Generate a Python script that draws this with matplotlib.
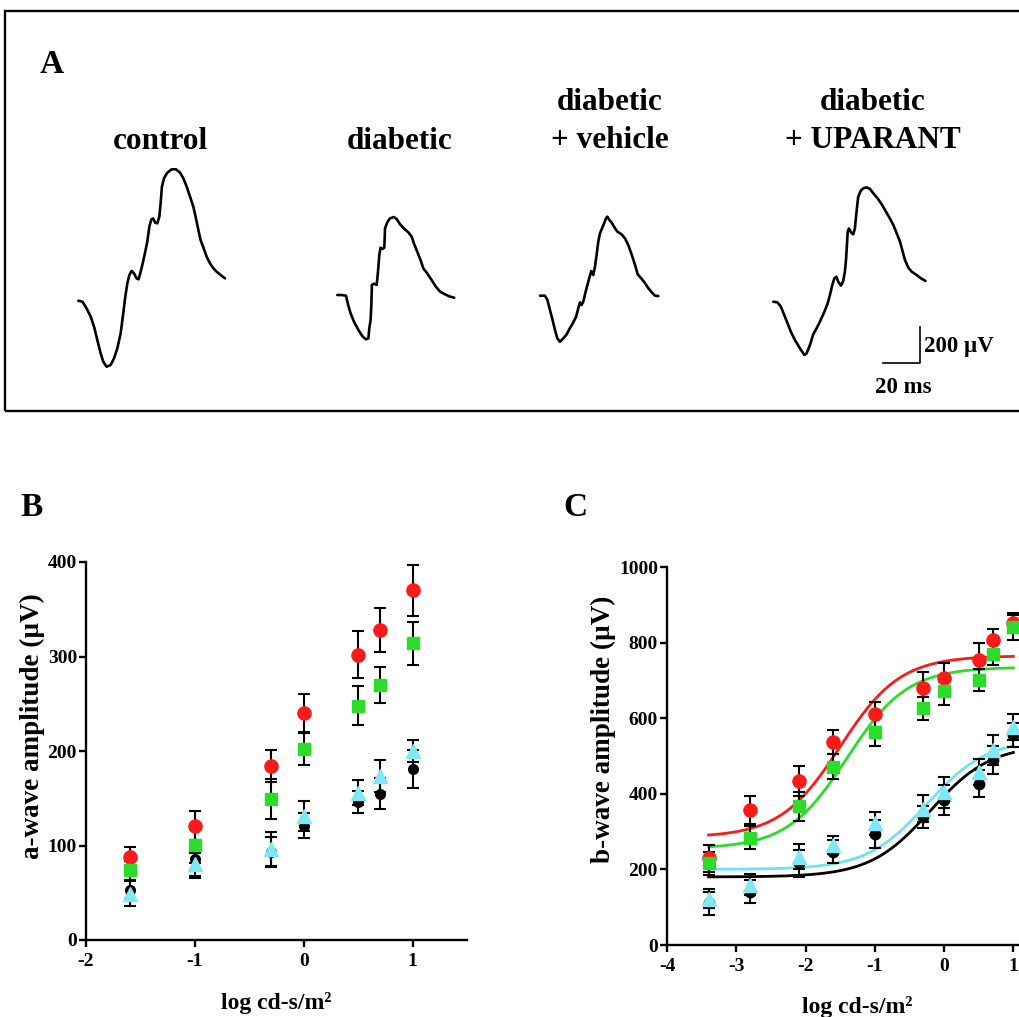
import numpy as np
import matplotlib
matplotlib.use("Agg")
import matplotlib.pyplot as plt
from matplotlib.patches import Rectangle

plt.rcParams['font.family'] = ['Liberation Serif', 'DejaVu Serif']
plt.rcParams['font.weight'] = 'bold'
plt.rcParams['axes.unicode_minus'] = False

# ---------------- data ----------------
# Panel A: representative ERG traces (time in ms, amplitude in µV, relative to trace start)
ctrl_t = [0, 2.3, 4.5, 6.7, 8.5, 10.3, 12.1, 13.5, 15.3, 17.5, 19.3, 21.1, 22.9, 24.3, 25.4, 26.5,
          27.6, 28.8, 30.1, 31.5, 32.6, 33.7, 34.8, 36.0, 37.3, 38.4, 39.5, 40.5, 41.6, 42.7, 43.8,
          44.5, 45.2, 46.3, 48.1, 50.5, 52.8, 55.0, 56.8, 58.6, 60.4, 62.2, 63.6, 64.9, 66.1, 67.6,
          69.4, 71.2, 73.0, 74.8, 76.9, 79.3]
ctrl_v = [0, -6, -43, -89, -144, -219, -293, -339, -367, -357, -320, -265, -181, -70, 22, 96,
          143, 165, 152, 124, 119, 161, 207, 263, 328, 411, 452, 457, 433, 430, 467,
          541, 633, 680, 711, 730, 730, 711, 680, 633, 578, 522, 457, 393, 337, 296,
          244, 207, 180, 161, 143, 124]

diab_t = [0, 2.3, 4.7, 5.9, 7.2, 9.0, 11.4, 13.7, 15.5, 16.8, 17.3, 18.0, 18.4, 18.7, 19.8, 21.3,
          22.0, 22.7, 23.4, 24.5, 25.4, 25.6, 25.8, 27.0, 28.5, 30.6, 32.1, 33.9, 36.0, 38.4, 40.2,
          41.4, 43.2, 45.0, 46.5, 48.6, 51.0, 53.3, 55.5, 58.2, 60.9, 63.2]
diab_v = [0, 0, -4, -56, -102, -148, -194, -231, -246, -241, -185, -139, -56, 56, 63, 56,
          130, 222, 263, 256, 263, 315, 370, 404, 426, 433, 422, 393, 370, 348, 324,
          287, 241, 194, 148, 120, 83, 46, 19, 4, -9, -15]

veh_t = [0, 2.7, 4.0, 5.4, 6.8, 8.1, 9.4, 10.8, 12.6, 14.4, 15.9, 17.7, 19.5, 20.7, 21.6, 22.5,
         23.4, 24.3, 25.6, 27.0, 27.7, 28.8, 29.7, 30.6, 31.5, 32.4, 33.9, 35.7, 36.4, 37.5, 38.7,
         40.0, 41.8, 44.1, 45.9, 47.7, 49.5, 51.4, 52.8, 55.0, 56.8, 58.6, 60.4, 62.2, 64.0]
veh_v = [0, 0, -24, -80, -135, -191, -237, -256, -237, -215, -185, -154, -117, -70, -37, -52,
         -33, 7, 59, 111, 137, 115, 161, 226, 300, 346, 383, 430, 439, 420, 407,
         383, 356, 341, 319, 282, 230, 170, 119, 93, 69, 41, 19, 0, -2]

upa_t = [0, 2.3, 4.1, 5.9, 7.7, 9.5, 11.7, 14.4, 16.8, 18.0, 19.8, 21.6, 23.4, 25.2, 27.6, 29.4,
         30.6, 31.9, 33.0, 34.1, 35.1, 36.6, 37.8, 38.7, 39.3, 39.8, 40.2, 40.9, 42.0, 43.2, 44.1,
         45.0, 45.9, 47.2, 48.6, 50.5, 52.3, 54.1, 56.4, 58.6, 60.4, 62.5, 64.9, 66.7, 68.5, 69.7,
         71.2, 73.0, 74.8, 77.5, 79.8, 82.3]
upa_v = [0, -4, -28, -74, -120, -167, -213, -259, -296, -287, -241, -181, -148, -111, -56, -9,
         37, 93, 130, 139, 111, 89, 115, 167, 231, 315, 389, 407, 385, 374, 407,
         500, 583, 615, 630, 635, 626, 602, 574, 541, 509, 472, 426, 380, 333, 287,
         231, 189, 167, 148, 130, 115]

trace_titles = [["control"], ["diabetic"], ["diabetic", "+ vehicle"], ["diabetic", "+ UPARANT"]]

# Panel B: a-wave amplitude
xB = [-1.6, -1.0, -0.3, 0.0, 0.5, 0.7, 1.0]
aw_control = [88, 121, 184, 240, 302, 328, 370]
aw_control_err = [10, 16, 17, 20, 25, 23, 27]
aw_upa = [74, 101, 149, 202, 248, 270, 314]
aw_upa_err = [10, 19, 21, 17, 21, 19, 23]
aw_diab = [53, 86, 93, 121, 146, 155, 181]
aw_diab_err = [10, 20, 16, 13, 12, 16, 20]
aw_veh = [49, 80, 96, 131, 156, 174, 200]
aw_veh_err = [13, 12, 18, 16, 13, 17, 12]

# Panel C: b-wave amplitude
xC = [-3.4, -2.8, -2.1, -1.6, -1.0, -0.3, 0.0, 0.5, 0.7, 1.0]
bw_control = [229, 357, 434, 537, 610, 681, 707, 755, 806, 852]
bw_control_err = [35, 38, 40, 31, 33, 40, 38, 45, 31, 26]
bw_upa = [216, 284, 367, 471, 564, 626, 671, 700, 771, 840]
bw_upa_err = [30, 30, 38, 33, 38, 31, 37, 29, 31, 32]
bw_diab = [110, 141, 216, 247, 293, 339, 383, 427, 489, 555]
bw_diab_err = [30, 31, 35, 31, 37, 29, 40, 35, 37, 31]
bw_veh = [123, 160, 233, 264, 322, 361, 404, 458, 515, 577]
bw_veh_err = [25, 29, 33, 24, 30, 35, 41, 35, 40, 35]

# sigmoid fit parameters: bottom, top, logEC50, hill slope
fit_control = [285, 765, -1.5, 1.0]
fit_upa = [255, 735, -1.4, 1.0]
fit_diab = [180, 530, -0.2, 1.0]
fit_veh = [200, 545, -0.25, 1.0]

# ---------------- styling ----------------
RED = '#ff1a1a'
GREEN = '#2bdc2b'
BLACK = '#000000'
CYAN = '#7ee8f4'
CYAN_LINE = '#6fe3f0'

W, H = 1019, 1017
fig = plt.figure(figsize=(W / 100, H / 100), dpi=100)


def fx(px):
    return px / W


def fy(py):
    return 1 - py / H


# ---------------- Panel A ----------------
fig.patches.append(Rectangle((fx(5), fy(411)), fx(1040) - fx(5), fy(11) - fy(411),
                             transform=fig.transFigure, fill=False, lw=1.7, ec='black',
                             clip_on=False))
axA = fig.add_axes([0, fy(420), 1, 420 / H])
PX_PER_MS = 1.85
PX_PER_UV = 0.18
axA.set_xlim(0, W / PX_PER_MS)
axA.set_ylim(0, 420 / PX_PER_UV)
axA.axis('off')


def pix2data(px, py):
    return px / PX_PER_MS, (420 - py) / PX_PER_UV


trace_starts = [(78.3, 300.7), (337.3, 295.0), (540.0, 295.7), (773.3, 301.7)]
traces = [(ctrl_t, ctrl_v), (diab_t, diab_v), (veh_t, veh_v), (upa_t, upa_v)]
for (t, v), (sx, sy) in zip(traces, trace_starts):
    t0, v0 = pix2data(sx, sy)
    axA.plot(np.array(t) + t0, np.array(v) + v0, color='black', lw=1.9,
             solid_joinstyle='round', solid_capstyle='round')

# scale bar
cx, cy = pix2data(920, 363.3)
axA.plot([cx - 20, cx, cx], [cy, cy, cy + 200], color='black', lw=1.2)
fig.text(fx(924), fy(352), "200 \u00b5V", fontsize=16.5, fontweight='bold', ha='left', va='baseline')
fig.text(fx(903), fy(393), "20 ms", fontsize=16.5, fontweight='bold', ha='center', va='baseline')

title_cx = [160, 400, 610, 873]
for cxp, lines in zip(title_cx, trace_titles):
    if len(lines) == 1:
        fig.text(fx(cxp), fy(149), lines[0], fontsize=22.5, fontweight='bold', ha='center', va='baseline')
    else:
        fig.text(fx(cxp), fy(110), lines[0], fontsize=22.5, fontweight='bold', ha='center', va='baseline')
        fig.text(fx(cxp), fy(148), lines[1], fontsize=22.5, fontweight='bold', ha='center', va='baseline')

fig.text(fx(40), fy(73), "A", fontsize=24, fontweight='bold', ha='left', va='baseline')
fig.text(fx(20), fy(516), "B", fontsize=24, fontweight='bold', ha='left', va='baseline')
fig.text(fx(563), fy(516), "C", fontsize=24, fontweight='bold', ha='left', va='baseline')


def style_axes(ax):
    for s in ['top', 'right']:
        ax.spines[s].set_visible(False)
    for s in ['left', 'bottom']:
        ax.spines[s].set_linewidth(1.7)
    ax.tick_params(direction='out', length=5, width=1.7, labelsize=14)
    ax.tick_params(axis='y', pad=1.5)
    ax.tick_params(axis='x', pad=4.5)
    for lab in ax.get_xticklabels() + ax.get_yticklabels():
        lab.set_fontweight('bold')
    ax.patch.set_alpha(0)


eb_kw = dict(ecolor='black', elinewidth=1.5, capsize=4.5, capthick=1.5, linestyle='none')

# ---------------- Panel B ----------------
axB = fig.add_axes([fx(86), fy(940), 381 / W, 378 / H])
axB.errorbar(xB, aw_control, yerr=aw_control_err, marker='o', ms=9.5, mfc=RED, mec=RED, **eb_kw)
axB.errorbar(xB, aw_diab, yerr=aw_diab_err, marker='o', ms=7, mfc=BLACK, mec=BLACK, **eb_kw)
axB.errorbar(xB, aw_upa, yerr=aw_upa_err, marker='s', ms=8.5, mfc=GREEN, mec=GREEN, **eb_kw)
axB.errorbar(xB, aw_veh, yerr=aw_veh_err, marker='^', ms=9.5, mfc=CYAN, mec=CYAN, **eb_kw)
axB.set_xlim(-2, 1.5)
axB.set_ylim(0, 400)
axB.set_xticks([-2, -1, 0, 1])
axB.set_yticks([0, 100, 200, 300, 400])
axB.set_xlabel("log cd-s/m\u00b2", fontsize=17, fontweight='bold', labelpad=16)
axB.set_ylabel("a-wave amplitude (\u00b5V)", fontsize=19.5, fontweight='bold')
axB.yaxis.set_label_coords(-0.108, 0.565)
style_axes(axB)

# ---------------- Panel C ----------------
axC = fig.add_axes([fx(667), fy(945), 381 / W, 378 / H])


def sigmoid(x, p):
    bottom, top, ec50, hill = p
    return bottom + (top - bottom) / (1 + 10 ** ((ec50 - x) * hill))


xs = np.linspace(min(xC), max(xC), 300)
axC.plot(xs, sigmoid(xs, fit_control), color=RED, lw=2.0, zorder=3)
axC.plot(xs, sigmoid(xs, fit_upa), color=GREEN, lw=2.0, zorder=3)
axC.plot(xs, sigmoid(xs, fit_diab), color=BLACK, lw=2.0, zorder=3)
axC.plot(xs, sigmoid(xs, fit_veh), color=CYAN_LINE, lw=2.0, zorder=3)
axC.errorbar(xC, bw_control, yerr=bw_control_err, marker='o', ms=9.5, mfc=RED, mec=RED, zorder=4, **eb_kw)
axC.errorbar(xC, bw_diab, yerr=bw_diab_err, marker='o', ms=7.5, mfc=BLACK, mec=BLACK, zorder=4, **eb_kw)
axC.errorbar(xC, bw_upa, yerr=bw_upa_err, marker='s', ms=8.5, mfc=GREEN, mec=GREEN, zorder=4, **eb_kw)
axC.errorbar(xC, bw_veh, yerr=bw_veh_err, marker='^', ms=9.5, mfc=CYAN, mec=CYAN, zorder=4, **eb_kw)
axC.set_xlim(-4, 1.5)
axC.set_ylim(0, 1000)
axC.set_xticks([-4, -3, -2, -1, 0, 1])
axC.set_yticks([0, 200, 400, 600, 800, 1000])
axC.set_xlabel("log cd-s/m\u00b2", fontsize=17, fontweight='bold', labelpad=15)
axC.set_ylabel("b-wave amplitude (\u00b5V)", fontsize=19.5, fontweight='bold')
axC.yaxis.set_label_coords(-0.135, 0.57)
style_axes(axC)

fig.savefig("out.png", dpi=100)
